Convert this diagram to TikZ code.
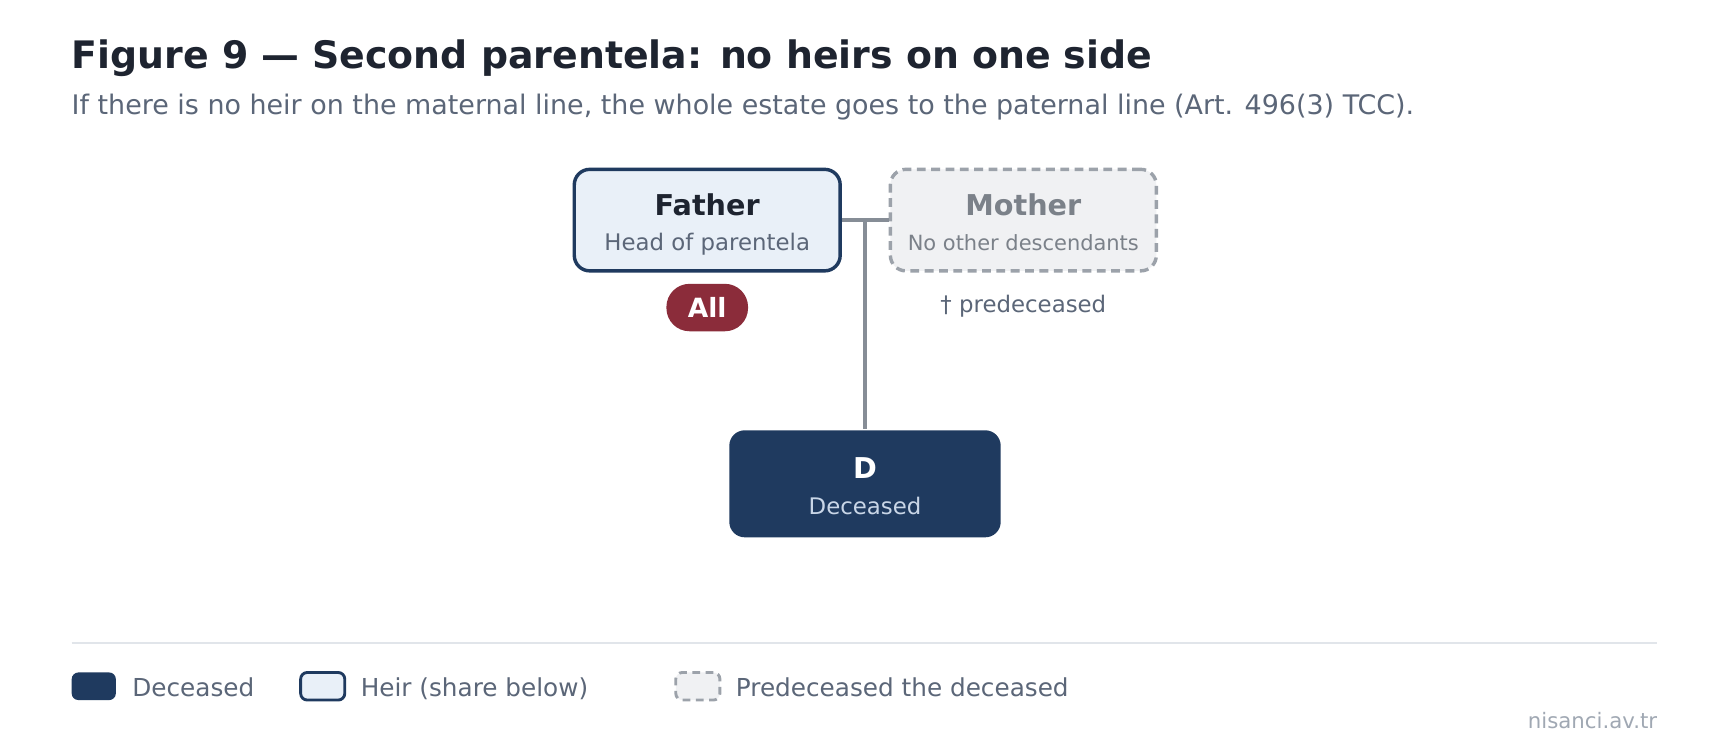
\documentclass[tikz,border=0pt]{standalone}
\usepackage{fontspec}
\setmainfont{DejaVu Sans}
\usetikzlibrary{positioning}

\definecolor{navy}{HTML}{1F3A5F}
\definecolor{ink}{HTML}{1E2430}
\definecolor{subgray}{HTML}{5B6678}
\definecolor{heirfill}{HTML}{E9F0F8}
\definecolor{gonefill}{HTML}{F0F1F3}
\definecolor{gonegray}{HTML}{9CA2AA}
\definecolor{gonetext}{HTML}{7B8189}
\definecolor{linegray}{HTML}{868D96}
\definecolor{palenavy}{HTML}{C9D6E7}
\definecolor{sharered}{HTML}{8B2C3A}
\definecolor{rulegray}{HTML}{E1E5EA}
\definecolor{footgray}{HTML}{A0A8B3}

\newcommand{\figtitlefont}{\fontsize{34.3}{42}\selectfont\bfseries}
\newcommand{\figsubfont}{\fontsize{24.4}{29}\selectfont}
\newcommand{\namefont}{\fontsize{26}{30}\selectfont\bfseries}
\newcommand{\rolefont}{\fontsize{20.7}{25}\selectfont}
\newcommand{\legendfont}{\fontsize{22.4}{27}\selectfont}

\tikzstyle{person} = [rectangle, rounded corners=14pt, minimum width=241pt, minimum height=92pt, line width=3.1pt]
\tikzstyle{heir} = [person, draw=navy, fill=heirfill]
\tikzstyle{gone} = [person, draw=gonegray, fill=gonefill, dash pattern=on 8pt off 5pt]
\tikzstyle{deceased} = [person, fill=navy, rounded corners=14pt, minimum width=246pt, minimum height=97pt]
\tikzstyle{txt} = [inner sep=0pt, outer sep=0pt, anchor=base]
\tikzstyle{share} = [rectangle, rounded corners=21pt, fill=sharered, text=white, minimum width=74pt, minimum height=43pt, inner sep=0pt]
\tikzstyle{swatch} = [rectangle, rounded corners=6pt, minimum width=40pt, minimum height=25pt, line width=2.6pt, inner sep=0pt]
\tikzstyle{line} = [line width=3pt, draw=linegray]

\begin{document}
\begin{tikzpicture}[x=1pt, y=-1pt]

	\useasboundingbox [fill=white] (0,0) rectangle (1568,681.6);

	\node (title) [txt, anchor=base west, text=ink, font=\figtitlefont] at (65,62) {Figure 9 — Second parentela: no heirs on one side};
	\node (subtitle) [txt, anchor=base west, text=subgray, font=\figsubfont] at (65,104) {If there is no heir on the maternal line, the whole estate goes to the paternal line (Art. 496(3) TCC).};

	\node (father) [heir] at (641,199.5) {};
	\node (mother) [gone] at (927.5,199.5) {};
	\node (d) [deceased] at (784,438.5) {};

	\node (fatherName) [txt, text=ink, font=\namefont, yshift=4.5pt] at (father.center) {Father};
	\node (fatherRole) [txt, text=subgray, font=\rolefont, yshift=-27.5pt] at (father.center) {Head of parentela};
	\node (motherName) [txt, text=gonetext, font=\namefont, yshift=4.5pt] at (mother.center) {Mother};
	\node (motherRole) [txt, text=gonetext, font=\fontsize{19}{23}\selectfont, yshift=-27.5pt] at (mother.center) {No other descendants};
	\node (dName) [txt, text=white, font=\namefont, yshift=4.5pt] at (d.center) {D};
	\node (dRole) [txt, text=palenavy, font=\rolefont, yshift=-27.5pt] at (d.center) {Deceased};

	\node (fatherShare) [share, font=\fontsize{24}{28}\selectfont\bfseries, below=10pt of father] {All};
	\node (motherNote) [txt, text=subgray, font=\rolefont] at (927.5,283) {† predeceased};

	\coordinate (couple) at (d.north |- father.east);
	\draw [line] (father.east) -- (mother.west);
	\draw [line] (couple) -- (d.north);

	\draw [draw=rulegray, line width=2pt] (65,583) -- (1502,583);

	\node (keyDeceased) [swatch, fill=navy] at (85,622) {};
	\node (keyDeceasedText) [txt, anchor=base west, text=subgray, font=\legendfont] at (120,631) {Deceased};
	\node (keyHeir) [swatch, draw=navy, fill=heirfill] at (292.5,622) {};
	\node (keyHeirText) [txt, anchor=base west, text=subgray, font=\legendfont] at (327,631) {Heir (share below)};
	\node (keyGone) [swatch, draw=gonegray, fill=gonefill, dash pattern=on 7pt off 5pt] at (632.5,622) {};
	\node (keyGoneText) [txt, anchor=base west, text=subgray, font=\legendfont] at (667,631) {Predeceased the deceased};

	\node (footer) [txt, anchor=base east, text=footgray, font=\fontsize{19.3}{23}\selectfont] at (1502,660) {nisanci.av.tr};

\end{tikzpicture}
\end{document}
